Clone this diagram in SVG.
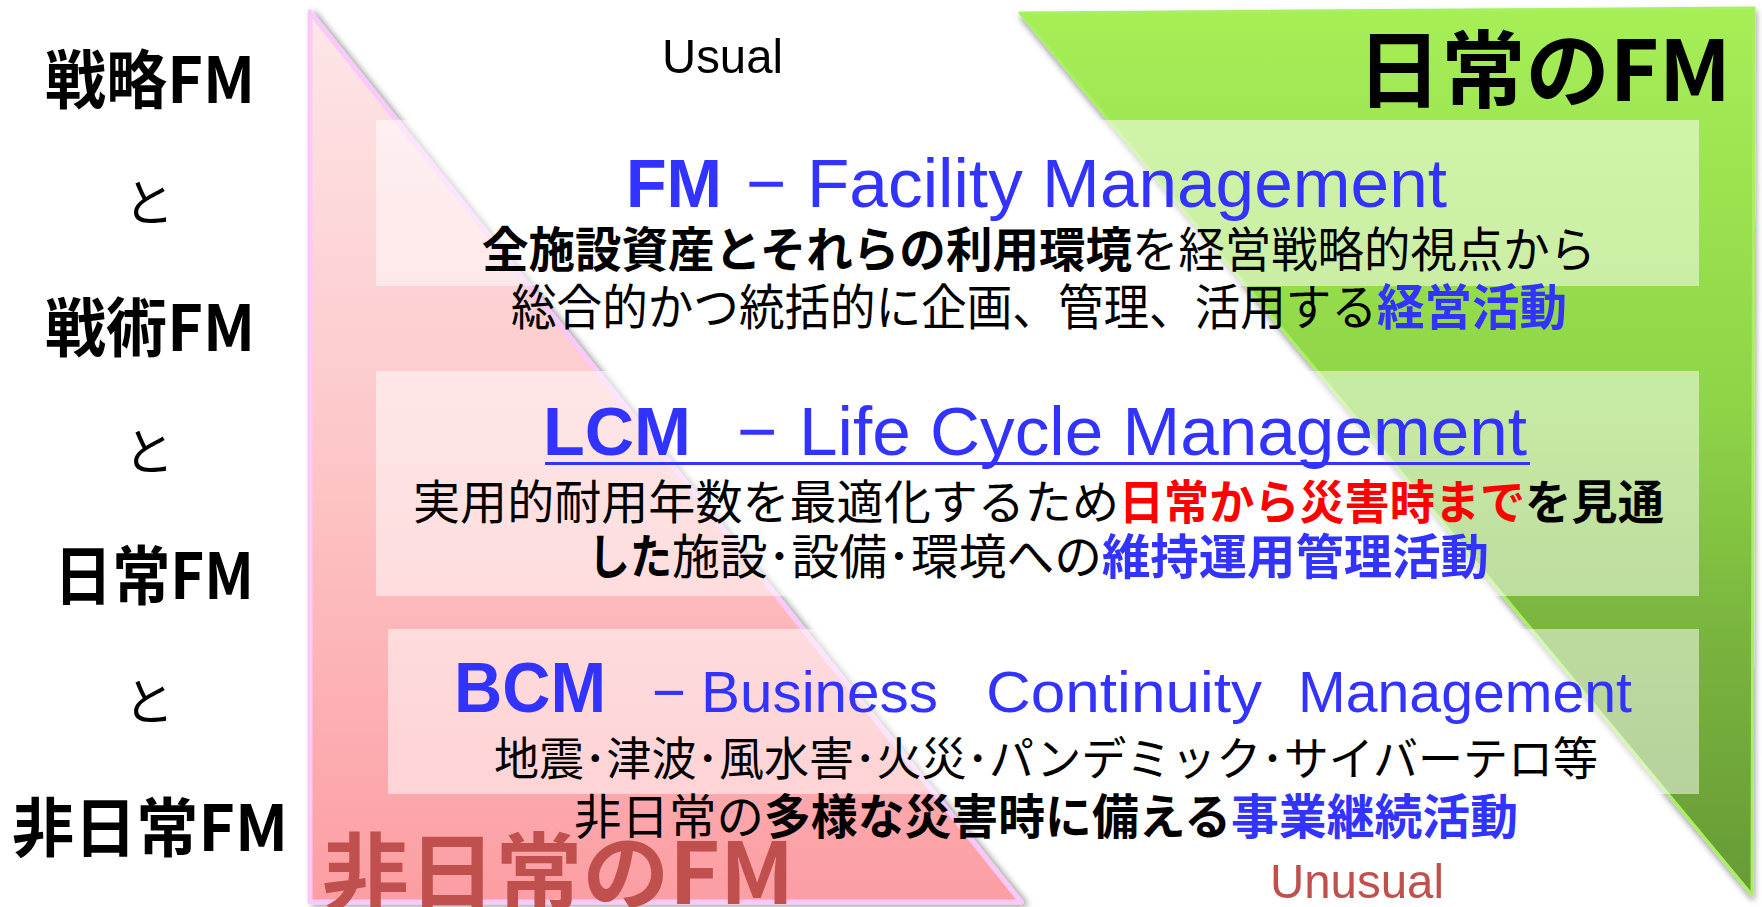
<svg xmlns="http://www.w3.org/2000/svg" width="1762" height="907" viewBox="0 0 1762 907">
<defs>
<linearGradient id="gPink" x1="0" y1="0" x2="0" y2="1">
<stop offset="0" stop-color="#fde6e8"/>
<stop offset="0.5" stop-color="#fdc6c8"/>
<stop offset="1" stop-color="#fc9ea3"/>
</linearGradient>
<linearGradient id="gGreen" x1="0" y1="0" x2="0" y2="1">
<stop offset="0" stop-color="#a6ef57"/>
<stop offset="0.45" stop-color="#8ed447"/>
<stop offset="0.7" stop-color="#7ab53e"/>
<stop offset="1" stop-color="#679a36"/>
</linearGradient>
<filter id="shPink" x="-10%" y="-10%" width="120%" height="120%">
<feDropShadow dx="4" dy="2" stdDeviation="3" flood-color="#000" flood-opacity="0.4"/>
</filter>
<filter id="shGreen" x="-10%" y="-10%" width="120%" height="120%">
<feDropShadow dx="1" dy="4" stdDeviation="3" flood-color="#000" flood-opacity="0.4"/>
</filter>
</defs>
<style>
.jp{font-family:'Noto Sans CJK JP','Noto Sans CJK SC',sans-serif;fill:#000}
.lat{font-family:'Liberation Sans',Arial,sans-serif}
.b{font-weight:700}
.blue{fill:#3333ff}
.red{fill:#ff0000}
.dred{fill:#c0504d}
.box{fill:#ffffff;fill-opacity:0.5}
</style>
<rect width="1762" height="907" fill="#ffffff"/>
<g id="pink-triangle">
<polygon points="310,12 310,902 1021,902" fill="url(#gPink)" stroke="#fbc8fa" stroke-width="5" stroke-linejoin="round" filter="url(#shPink)"/>
</g>
<g id="green-triangle">
<polygon points="1020,13 1754,8 1752,895" fill="url(#gGreen)" stroke="#a8f060" stroke-width="3" stroke-linejoin="round" filter="url(#shGreen)"/>
</g>
<g id="label-hijou-fm">
<text class="jp b dred" x="322" y="904" font-size="85" textLength="472" lengthAdjust="spacingAndGlyphs">非日常のFM</text>
</g>
<g id="label-nichijou-fm">
<text class="jp b" x="1357" y="101" font-size="84" textLength="374" lengthAdjust="spacingAndGlyphs">日常のFM</text>
</g>
<g id="label-usual">
<text class="lat" x="662" y="73" font-size="49" textLength="121" lengthAdjust="spacingAndGlyphs">Usual</text>
</g>
<g id="label-unusual">
<text class="lat dred" x="1270" y="898" font-size="49" textLength="174" lengthAdjust="spacingAndGlyphs">Unusual</text>
</g>
<g id="left-column">
<text class="jp b" x="150" y="103" font-size="64" text-anchor="middle" textLength="210" lengthAdjust="spacingAndGlyphs">戦略FM</text>
<text class="jp" x="149" y="221" font-size="50" text-anchor="middle">と</text>
<text class="jp b" x="150" y="351" font-size="64" text-anchor="middle" textLength="210" lengthAdjust="spacingAndGlyphs">戦術FM</text>
<text class="jp" x="149" y="470" font-size="50" text-anchor="middle">と</text>
<text class="jp b" x="154" y="599" font-size="64" text-anchor="middle" textLength="200" lengthAdjust="spacingAndGlyphs">日常FM</text>
<text class="jp" x="149" y="720" font-size="50" text-anchor="middle">と</text>
<text class="jp b" x="150" y="851" font-size="64" text-anchor="middle" textLength="276" lengthAdjust="spacingAndGlyphs">非日常FM</text>
</g>
<g id="box-fm">
<rect class="box" x="376" y="120" width="1323" height="166"/>
<text class="lat blue" y="207" font-size="69"><tspan class="b" x="626" textLength="96" lengthAdjust="spacingAndGlyphs">FM</tspan><tspan x="746">−</tspan><tspan x="807" textLength="640" lengthAdjust="spacingAndGlyphs">Facility Management</tspan></text>
<text class="jp" y="267" font-size="48"><tspan class="b" x="482" textLength="650" lengthAdjust="spacingAndGlyphs">全施設資産とそれらの利用環境</tspan><tspan x="1132" textLength="464" lengthAdjust="spacingAndGlyphs">を経営戦略的視点から</tspan></text>
<text class="jp" y="325" font-size="49"><tspan x="511" textLength="866" lengthAdjust="spacingAndGlyphs">総合的かつ統括的に企画、管理、活用する</tspan><tspan class="b blue" x="1377" textLength="190" lengthAdjust="spacingAndGlyphs">経営活動</tspan></text>
</g>
<g id="box-lcm">
<rect class="box" x="376" y="371" width="1323" height="225"/>
<text class="lat blue" y="455" font-size="69"><tspan class="b" x="543" textLength="148" lengthAdjust="spacingAndGlyphs">LCM</tspan><tspan x="737">−</tspan><tspan x="799" textLength="728" lengthAdjust="spacingAndGlyphs">Life Cycle Management</tspan></text>
<rect x="545" y="462" width="985" height="3" fill="#3333ff"/>
<text class="jp" y="519" font-size="47"><tspan x="413" textLength="706" lengthAdjust="spacingAndGlyphs">実用的耐用年数を最適化するため</tspan><tspan class="b red" x="1119" textLength="406" lengthAdjust="spacingAndGlyphs">日常から災害時まで</tspan><tspan class="b" x="1525" textLength="139" lengthAdjust="spacingAndGlyphs">を見通</tspan></text>
<text class="jp" y="574" font-size="48"><tspan class="b" x="588" textLength="84" lengthAdjust="spacingAndGlyphs">した</tspan><tspan x="672" textLength="430" lengthAdjust="spacingAndGlyphs">施設･設備･環境への</tspan><tspan class="b blue" x="1102" textLength="387" lengthAdjust="spacingAndGlyphs">維持運用管理活動</tspan></text>
</g>
<g id="box-bcm">
<rect class="box" x="388" y="629" width="1311" height="165"/>
<text class="lat blue" y="712"><tspan class="b" x="454" font-size="71" textLength="152" lengthAdjust="spacingAndGlyphs">BCM</tspan><tspan x="652" font-size="58">−</tspan><tspan x="701" font-size="58" textLength="237" lengthAdjust="spacingAndGlyphs">Business</tspan><tspan x="986" font-size="58" textLength="276" lengthAdjust="spacingAndGlyphs">Continuity</tspan><tspan x="1298" font-size="58" textLength="334" lengthAdjust="spacingAndGlyphs">Management</tspan></text>
<text class="jp" x="494" y="775" font-size="46" textLength="1104" lengthAdjust="spacingAndGlyphs">地震･津波･風水害･火災･パンデミック･サイバーテロ等</text>
<text class="jp" y="834" font-size="48"><tspan x="574" textLength="190" lengthAdjust="spacingAndGlyphs">非日常の</tspan><tspan class="b" x="764" textLength="467" lengthAdjust="spacingAndGlyphs">多様な災害時に備える</tspan><tspan class="b blue" x="1231" textLength="287" lengthAdjust="spacingAndGlyphs">事業継続活動</tspan></text>
</g>
<g id="connectors"/>
</svg>
